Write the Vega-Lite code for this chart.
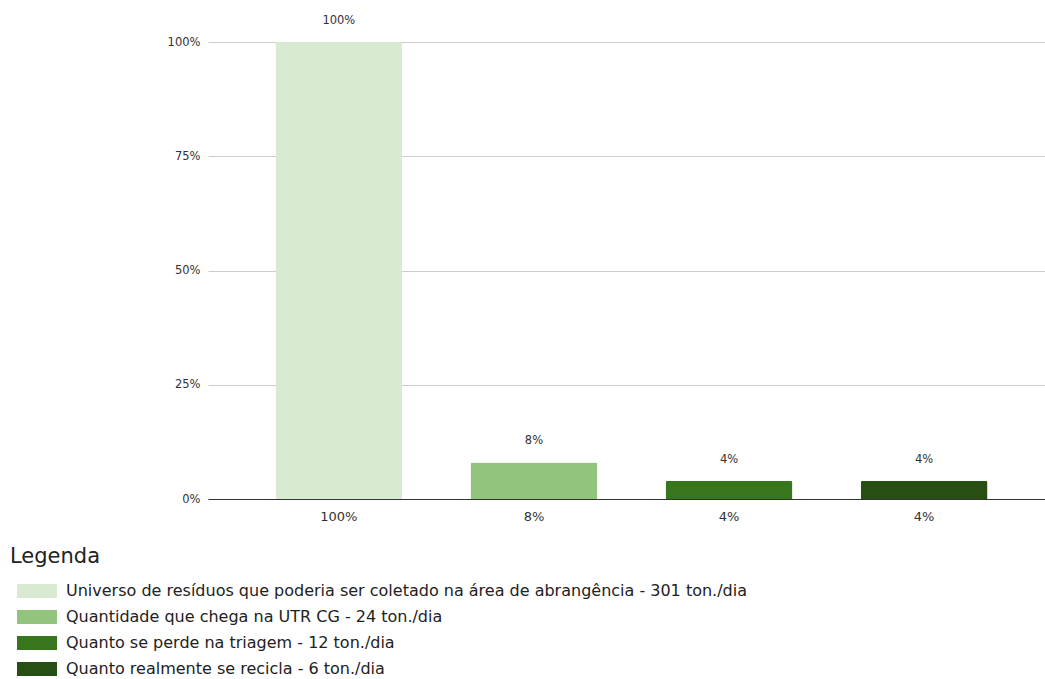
{
  "$schema": "https://vega.github.io/schema/vega-lite/v6.json",
  "width": 837,
  "height": 457,
  "autosize": {"type": "none"},
  "padding": {"left": 208, "top": 42, "right": 0, "bottom": 180},
  "background": "white",
  "config": {"view": {"stroke": null}, "font": "DejaVu Sans"},
  "data": {
    "values": [
      {"ordem": 1, "serie": "Universo de resíduos que poderia ser coletado na área de abrangência - 301 ton./dia", "valor": 1.0},
      {"ordem": 2, "serie": "Quantidade que chega na UTR CG - 24 ton./dia", "valor": 0.08},
      {"ordem": 3, "serie": "Quanto se perde na triagem - 12 ton./dia", "valor": 0.04},
      {"ordem": 4, "serie": "Quanto realmente se recicla - 6 ton./dia", "valor": 0.04}
    ]
  },
  "encoding": {
    "x": {
      "field": "ordem",
      "type": "ordinal",
      "scale": {"paddingInner": 0.35, "paddingOuter": 0.32, "align": 0.54},
      "axis": {"title": null, "labels": false, "ticks": false, "domainColor": "#333333", "domainWidth": 1}
    }
  },
  "layer": [
    {
      "mark": {"type": "bar", "cornerRadiusTopLeft": 2, "cornerRadiusTopRight": 2},
      "encoding": {
        "y": {
          "field": "valor",
          "type": "quantitative",
          "scale": {"domain": [0, 1]},
          "axis": {
            "title": null,
            "values": [0, 0.25, 0.5, 0.75, 1],
            "format": ".0%",
            "domain": false,
            "ticks": false,
            "gridColor": "#cccccc",
            "labelFont": "DejaVu Sans",
            "labelFontSize": 11.5,
            "labelColor": "#333333",
            "labelPadding": 8
          }
        },
        "color": {
          "field": "serie",
          "type": "nominal",
          "sort": null,
          "scale": {
            "domain": [
              "Universo de resíduos que poderia ser coletado na área de abrangência - 301 ton./dia",
              "Quantidade que chega na UTR CG - 24 ton./dia",
              "Quanto se perde na triagem - 12 ton./dia",
              "Quanto realmente se recicla - 6 ton./dia"
            ],
            "range": ["#d9ead3", "#93c47d", "#38761d", "#274e13"]
          },
          "legend": {
            "title": "Legenda",
            "orient": "none",
            "legendX": -198,
            "legendY": 504,
            "padding": 0,
            "titleFont": "DejaVu Sans",
            "titleFontSize": 21,
            "titleFontWeight": "normal",
            "titleColor": "#222222",
            "titlePadding": 16,
            "labelFont": "DejaVu Sans",
            "labelFontSize": 16,
            "labelColor": "#222222",
            "labelLimit": 900,
            "symbolType": "M-1,-1H4.714V1H-1Z",
            "symbolSize": 196,
            "symbolStrokeWidth": 0,
            "symbolOpacity": 1,
            "symbolOffset": 6,
            "labelOffset": 34,
            "rowPadding": 10
          }
        }
      }
    },
    {
      "mark": {"type": "text", "dy": -21, "fontSize": 11.5, "color": "#333333", "font": "DejaVu Sans"},
      "encoding": {
        "y": {"field": "valor", "type": "quantitative"},
        "text": {"field": "valor", "type": "quantitative", "format": ".0%"}
      }
    },
    {
      "mark": {"type": "text", "dy": 18, "fontSize": 13, "color": "#333333", "font": "DejaVu Sans"},
      "encoding": {
        "y": {"datum": 0},
        "text": {"field": "valor", "type": "quantitative", "format": ".0%"}
      }
    }
  ]
}
